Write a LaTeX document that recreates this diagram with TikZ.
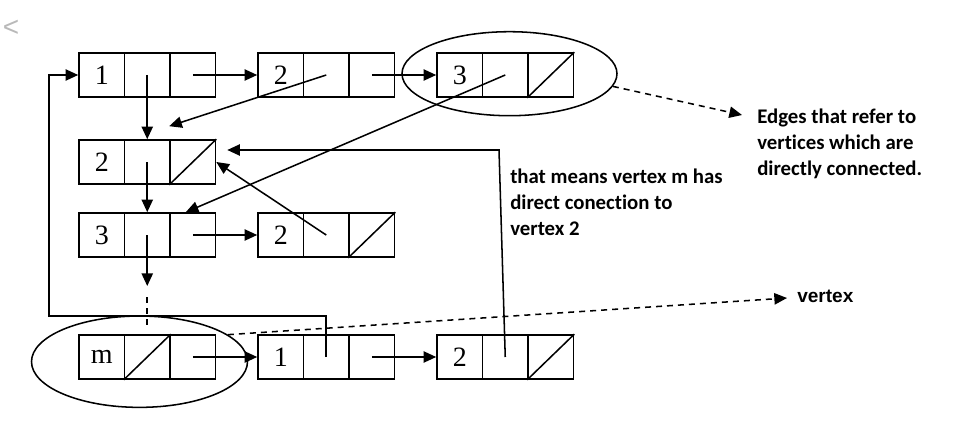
\documentclass[tikz,border=0pt]{standalone}
\usepackage{fontspec}
\setmainfont{Liberation Serif}
\newfontfamily\calb{Carlito}[Ligatures=CommonOff]
\newfontfamily\arialf{Liberation Sans}
\usetikzlibrary{arrows.meta,shapes.geometric,calc}
\newcommand\listnode[4]{%
  \node[cell] (#1a) at ({#2+22.75},{#3+22}) {#4};
  \node[cell] (#1b) at ({#2+68.25},{#3+22}) {};
  \node[cell] (#1c) at ({#2+113.75},{#3+22}) {};}
\begin{document}
\begin{tikzpicture}[x=0.75pt,y=-0.75pt,
  cell/.style={draw, line width=1.2pt, minimum width=34.125pt, minimum height=33pt, inner sep=0pt, font=\fontsize{21}{22}\selectfont},
  conn/.style={line width=1.15pt},
  arr/.style={conn, -{Triangle[length=9.5pt,width=8.5pt]}},
  darr/.style={conn, dash pattern=on 4.5pt off 3.75pt, -{Triangle[length=9.5pt,width=8.5pt]}},
  oval/.style={draw, ellipse, line width=1.15pt, inner sep=0pt},
  note/.style={font=\calb\bfseries\fontsize{15.6}{19.4}\selectfont, align=left, inner sep=0pt, anchor=base west}
]
\useasboundingbox (0,0) rectangle (960,428);
\listnode{pa}{79}{53}{1}
\listnode{pb}{258}{53}{2}
\listnode{pc}{437}{53}{3}
\listnode{qa}{79}{140}{2}
\listnode{ra}{79}{213}{3}
\listnode{rb}{258}{213}{2}
\listnode{sa}{79}{335}{m}
\listnode{sb}{258}{335}{1}
\listnode{sc}{437}{335}{2}
\foreach \c in {pcc,qac,rbc,sab,scc} \draw[conn] (\c.south west) -- (\c.north east);
\node[oval, minimum width=161.25pt, minimum height=63pt] (e3) at (509.5,73.7) {};
\node[oval, minimum width=162pt, minimum height=68.5pt] (em) at (139.5,361.7) {};
\draw[arr] (pac.center) -- (pba.west);
\draw[arr] (pbc.center) -- (pca.west);
\draw[arr] (pab.center) -- (qab.north);
\draw[arr] (qab.center) -- (rab.north);
\draw[arr] (rac.center) -- (rba.west);
\draw[arr] (sac.center) -- (sba.west);
\draw[arr] (sbc.center) -- (sca.west);
\coordinate (dA) at (147.25,286);
\coordinate (dB) at (147.25,297);
\coordinate (dC) at (147.25,327);
\draw[arr] (rab.center) -- (dA);
\draw[conn, dash pattern=on 4.5pt off 3.75pt] (dB) -- (dC);
\draw[arr] (pbb.center) -- ($(qac.north west)+(0,-13)$);
\draw[arr] (pcb.center) -- ($(rac.north)+(-7,0)$);
\draw[arr] (rbb.center) -- (qac.east);
\coordinate (kneeA) at (499,150);
\draw[arr] (scb.center) -- (kneeA) -- ($(qac.east)+(11,-12)$);
\coordinate (loopL) at (49,316);
\draw[arr] (sbb.center) |- (loopL) |- (paa.west);
\coordinate (edgeTip) at (742,115);
\draw[darr] (e3.-7) -- (edgeTip);
\coordinate (vertTip) at (787,298);
\draw[darr] (em.17) -- (vertTip);
\node[note] (edges) at (757,175.5) {Edges that refer to\\vertices which are\\directly connected.};
\node[note] (means) at (510,235.5) {that means vertex m has\\direct conection to\\vertex 2};
\node[font=\arialf\bfseries\fontsize{14.3}{16}\selectfont, inner sep=0pt, anchor=base west] (vlabel) at (797,302.7) {vertex};
\node[text=gray!55, font=\arialf\fontsize{21}{21}\selectfont, inner sep=0pt] (back) at (11,28) {<};
\end{tikzpicture}
\end{document}
